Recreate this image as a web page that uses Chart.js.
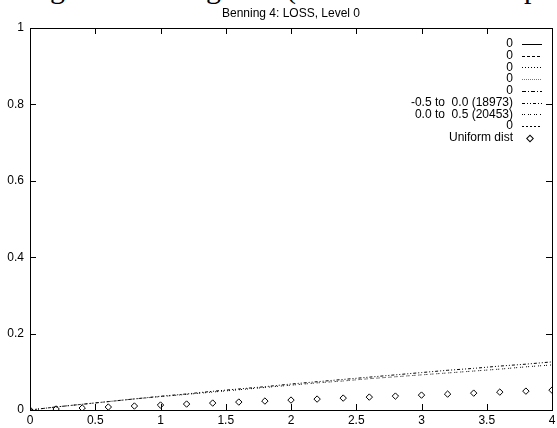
<!DOCTYPE html>
<html>
<head>
<meta charset="utf-8">
<script src="https://cdn.jsdelivr.net/npm/chart.js"></script>
<style>
  html, body { margin:0; padding:0; background:#fff; overflow:hidden; }
  #wrap { position:relative; width:557px; height:428px; }
  #cut span { position:absolute; top:-29px; font-family:"Liberation Serif", serif; font-size:30px; color:#000; line-height:34px; }
  canvas { position:absolute; left:0; top:0; }
</style>
</head>
<body>
<div id="wrap">
  <div id="cut"><span style="left:50px">g</span><span style="left:206px">g</span><span style="left:286px">(</span><span style="left:524px">p</span></div>
  <canvas id="c" width="557" height="428"></canvas>
</div>
<script>
// --- values ---
const xVals = [0, 0.2, 0.4, 0.6, 0.8, 1.0, 1.2, 1.4, 1.6, 1.8, 2.0, 2.2, 2.4, 2.6, 2.8, 3.0, 3.2, 3.4, 3.6, 3.8, 4.0];
const negHalf = [0, 0.008, 0.015, 0.022, 0.029, 0.036, 0.042, 0.049, 0.055, 0.061, 0.068, 0.074, 0.080, 0.086, 0.092, 0.098, 0.104, 0.109, 0.115, 0.120, 0.126];
const posHalf = [0, 0.008, 0.015, 0.022, 0.029, 0.035, 0.041, 0.047, 0.053, 0.059, 0.065, 0.071, 0.076, 0.082, 0.087, 0.092, 0.097, 0.102, 0.107, 0.113, 0.118];
const uniform = [0, 0.0026, 0.0052, 0.0078, 0.0104, 0.013, 0.0156, 0.0182, 0.0208, 0.0234, 0.026, 0.0286, 0.0312, 0.0338, 0.0364, 0.039, 0.0416, 0.0442, 0.0468, 0.0494, 0.052];
const labels = ['0', '0', '0', '0', '0', '-0.5 to  0.0 (18973)', '0.0 to  0.5 (20453)', '0', 'Uniform dist'];
const dashes = [[], [3,2], [1,2], [1,1], [4,2,1,2], [3,2,1,2,1,2], [1,1,1,3], [2,2], null];
const xTicks = [0, 0.5, 1, 1.5, 2, 2.5, 3, 3.5, 4];
const yTicks = [0, 0.2, 0.4, 0.6, 0.8, 1];
const titleText = 'Benning 4: LOSS, Level 0';

const FONT = '"Liberation Sans", Arial, sans-serif';
const pts = arr => arr.map((v,i)=>({x:xVals[i], y:v}));
const fmt = v => String(+(+v).toFixed(2));

const seriesData = [[], [], [], [], [], pts(negHalf), pts(posHalf), [], pts(uniform)];
const datasets = labels.map((lab,i)=>{
  if (dashes[i] === null) {
    return {label:lab, data:seriesData[i], showLine:false, pointStyle:'rectRot', pointRadius:3.2,
            pointBorderWidth:1, pointBorderColor:'#000', pointBackgroundColor:'#fff'};
  }
  return {label:lab, data:seriesData[i], borderColor: i===3 ? '#777' : '#000', borderWidth:1,
          borderDash:dashes[i], pointRadius:0, tension:0, fill:false};
});

// frame with inward ticks on all four sides, title and gnuplot style key
const framePlugin = {
  id:'frame',
  afterDraw(chart){
    const ctx = chart.ctx, a = chart.chartArea;
    const xs = chart.scales.x, ys = chart.scales.y;
    ctx.save();
    ctx.strokeStyle = '#000'; ctx.lineWidth = 1;
    ctx.strokeRect(Math.round(a.left)+0.5, Math.round(a.top)+0.5, Math.round(a.right-a.left), Math.round(a.bottom-a.top));
    ctx.beginPath();
    xTicks.forEach(v=>{
      const p = Math.round(xs.getPixelForValue(v))+0.5;
      ctx.moveTo(p, a.bottom); ctx.lineTo(p, a.bottom-6);
      ctx.moveTo(p, a.top); ctx.lineTo(p, a.top+6);
    });
    yTicks.forEach(v=>{
      const p = Math.round(ys.getPixelForValue(v))+0.5;
      ctx.moveTo(a.left, p); ctx.lineTo(a.left+6, p);
      ctx.moveTo(a.right, p); ctx.lineTo(a.right-6, p);
    });
    ctx.stroke();

    ctx.fillStyle = '#000';
    ctx.font = '12px ' + FONT;
    ctx.textAlign = 'center'; ctx.textBaseline = 'middle';
    ctx.fillText(titleText, (a.left+a.right)/2, 14);

    // key
    ctx.textAlign = 'right';
    const tx = 513, sx0 = 522, sx1 = 542, y0 = 44, dy = 11.7;
    chart.data.datasets.forEach((ds,i)=>{
      const y = y0 + i*dy;
      ctx.fillStyle = '#000';
      ctx.fillText(ds.label, tx, y);
      if (ds.showLine === false) {
        ctx.save();
        ctx.translate(530, Math.round(y)+0.5);
        ctx.rotate(Math.PI/4);
        ctx.fillStyle = '#fff';
        ctx.fillRect(-2.3,-2.3,4.6,4.6);
        ctx.strokeRect(-2.3,-2.3,4.6,4.6);
        ctx.restore();
      } else {
        ctx.save();
        ctx.strokeStyle = ds.borderColor;
        ctx.setLineDash(ds.borderDash);
        ctx.beginPath();
        ctx.moveTo(sx0, Math.round(y)+0.5); ctx.lineTo(sx1, Math.round(y)+0.5);
        ctx.stroke();
        ctx.restore();
      }
    });
    ctx.restore();
  }
};

new Chart(document.getElementById('c').getContext('2d'), {
  type:'line',
  data:{datasets},
  options:{
    responsive:false, animation:false,
    layout:{padding:{top:28, right:0, left:0, bottom:0}},
    plugins:{legend:{display:false}, title:{display:false}, tooltip:{enabled:false}},
    scales:{
      x:{type:'linear', min:0, max:4,
         afterBuildTicks: s => { s.ticks = xTicks.map(v=>({value:v})); },
         afterFit: s => { s.height = 18; s.paddingRight = 3; s.paddingLeft = 0; },
         grid:{display:false, drawTicks:false}, border:{display:false},
         ticks:{color:'#000', font:{family:FONT, size:12}, padding:3, maxRotation:0, callback: fmt}},
      y:{type:'linear', min:0, max:1,
         afterBuildTicks: s => { s.ticks = yTicks.map(v=>({value:v})); },
         afterFit: s => { s.width = 30; },
         grid:{display:false, drawTicks:false}, border:{display:false},
         ticks:{color:'#000', font:{family:FONT, size:12}, padding:6, callback: fmt}}
    }
  },
  plugins:[framePlugin]
});
</script>
</body>
</html>
